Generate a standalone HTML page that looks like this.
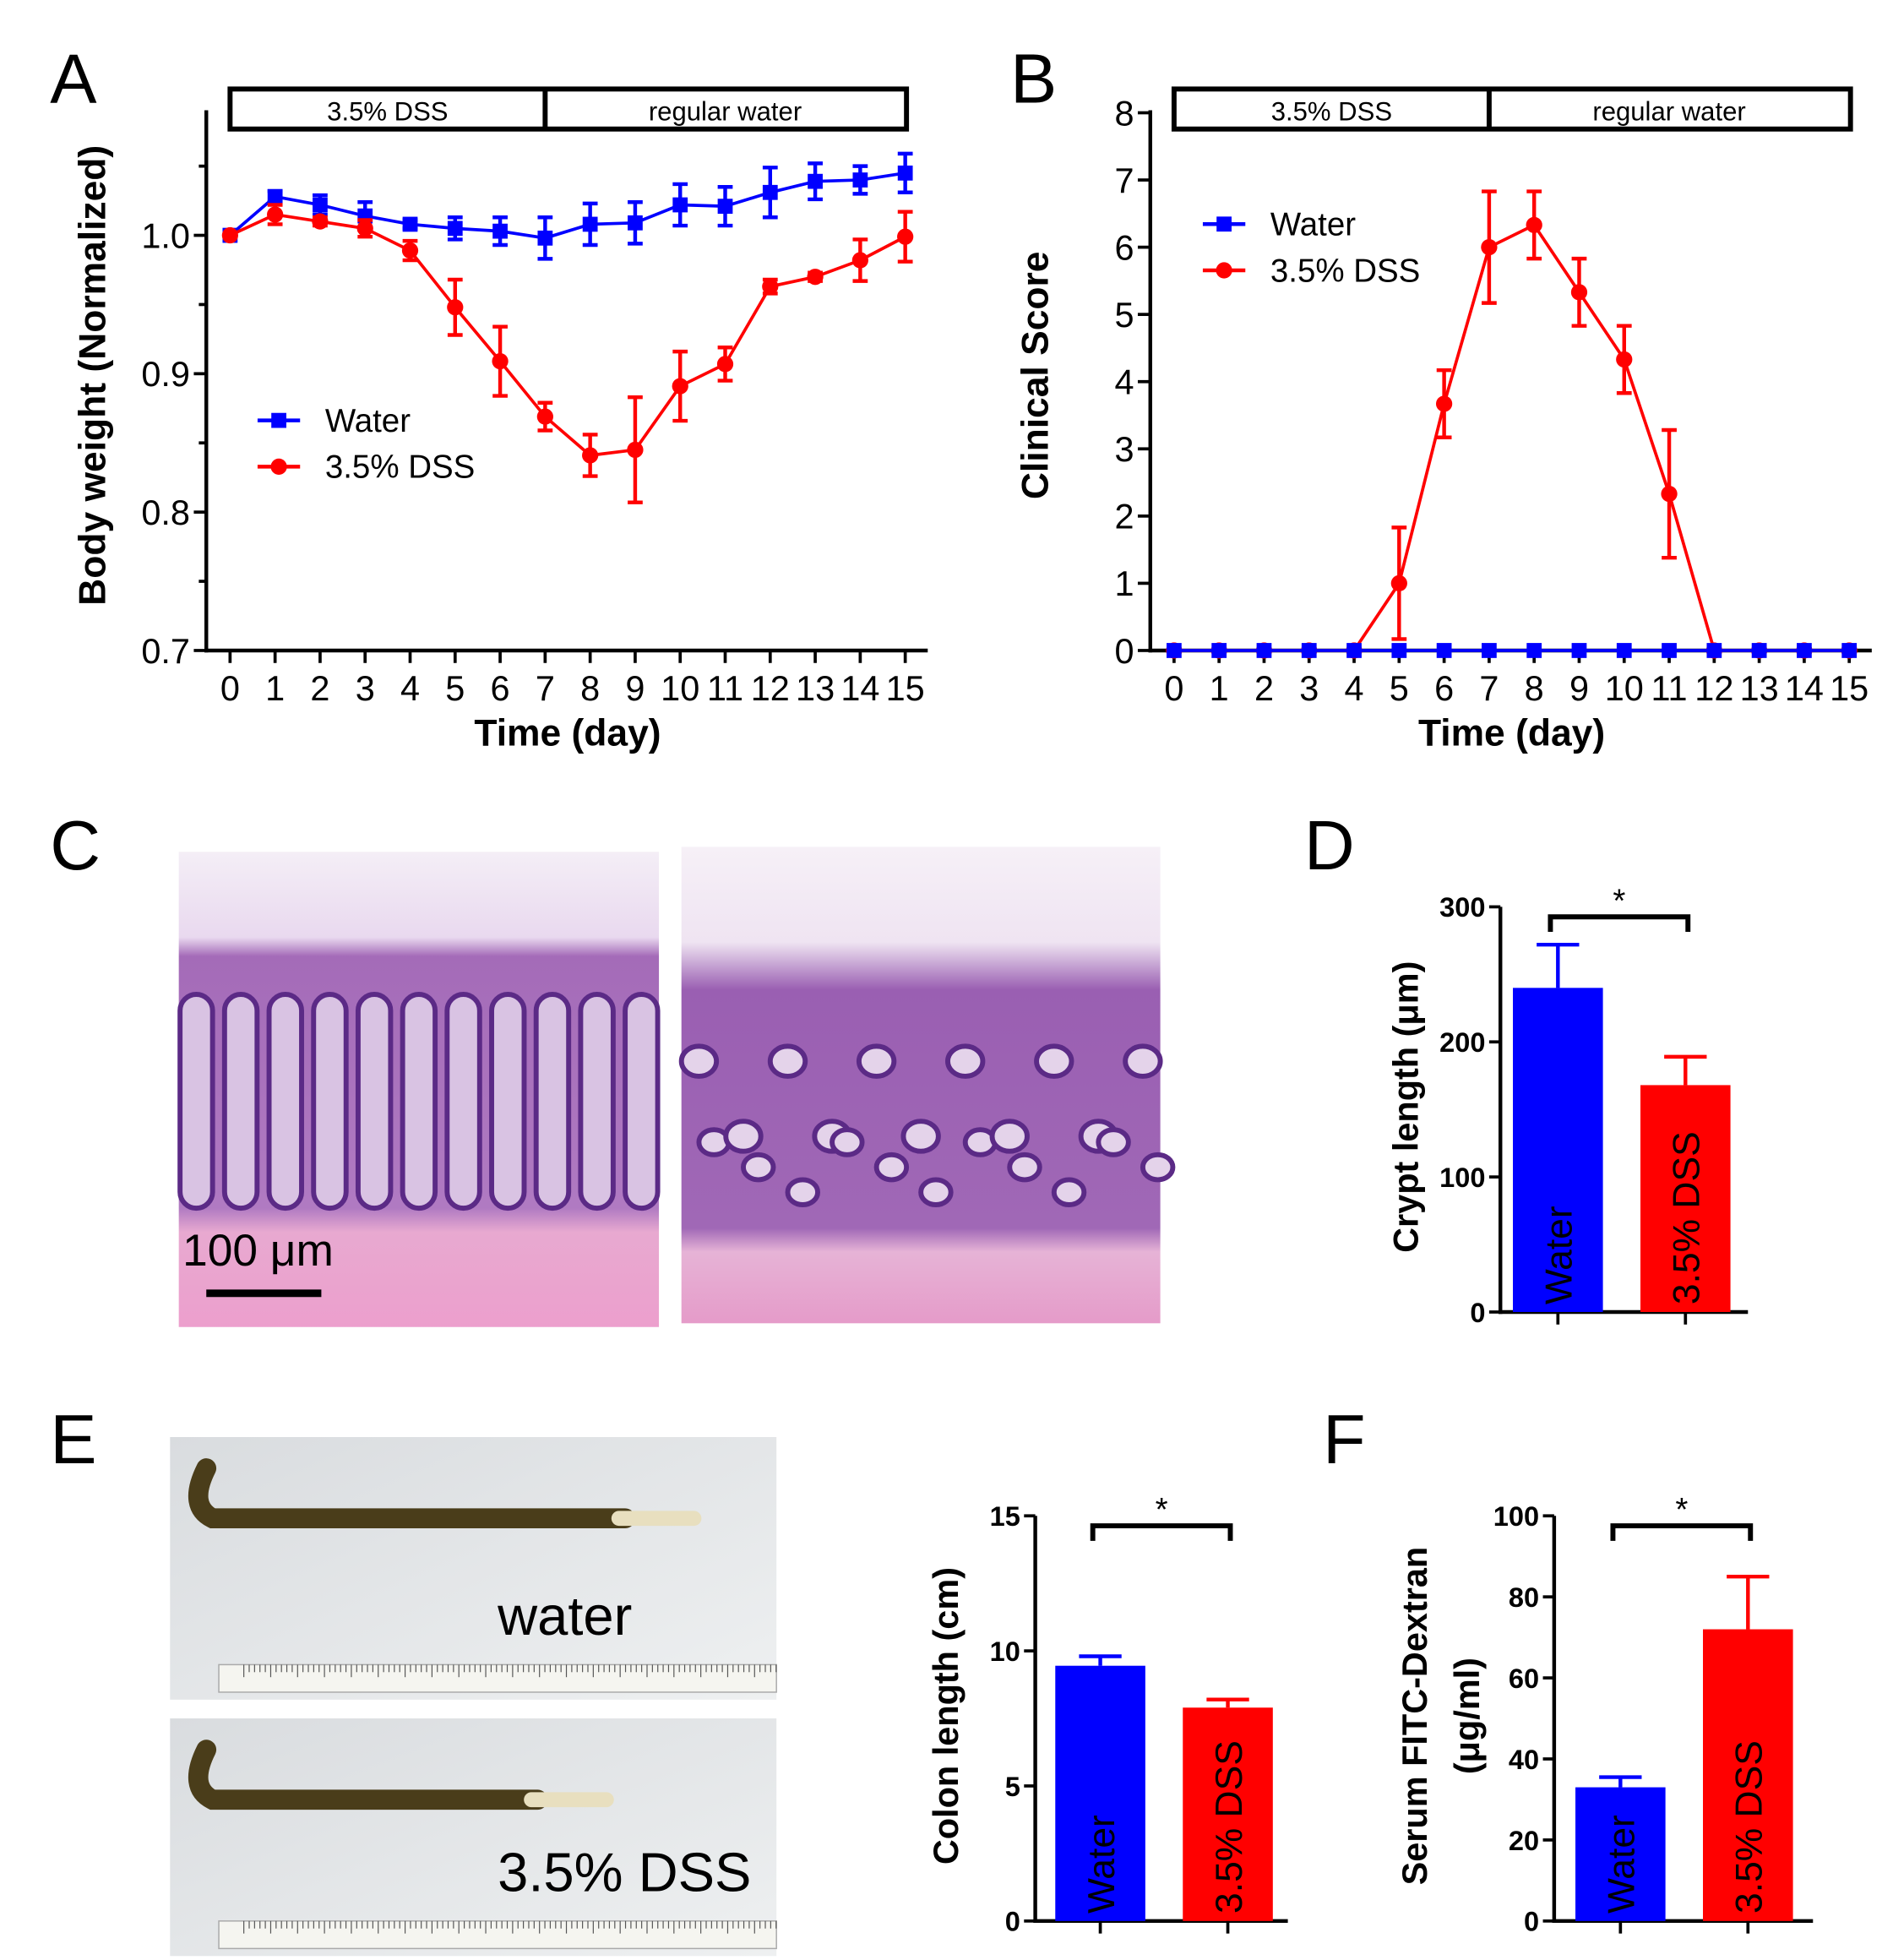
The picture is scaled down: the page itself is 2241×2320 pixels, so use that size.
<!DOCTYPE html>
<html><head><meta charset="utf-8"><style>
html,body{margin:0;padding:0;background:#fff;}
svg{display:block;font-family:"Liberation Sans",sans-serif;}
</style></head><body>
<svg id="fig" width="2241" height="2320" viewBox="0 0 1514 1567" xmlns="http://www.w3.org/2000/svg">
<defs>
<linearGradient id="tissueL" x1="0" y1="0" x2="0" y2="1">
<stop offset="0" stop-color="#f4eef6"/><stop offset="0.18" stop-color="#e9d9ef"/><stop offset="0.22" stop-color="#a46bb8"/><stop offset="0.75" stop-color="#b07ac2"/><stop offset="0.8" stop-color="#e8a9d0"/><stop offset="1" stop-color="#ec9fcd"/></linearGradient>
<linearGradient id="tissueR" x1="0" y1="0" x2="0" y2="1">
<stop offset="0" stop-color="#f6f0f7"/><stop offset="0.2" stop-color="#efe4f2"/><stop offset="0.3" stop-color="#9a5fb2"/><stop offset="0.8" stop-color="#a068b6"/><stop offset="0.85" stop-color="#e6b3d6"/><stop offset="1" stop-color="#e59bc9"/></linearGradient>
<linearGradient id="photo" x1="0" y1="0" x2="1" y2="1"><stop offset="0" stop-color="#d9dcdf"/><stop offset="1" stop-color="#eef0f1"/></linearGradient>
</defs>
<g id="root"></g>
</svg>
<script>
// ---- Panel A data ----
const daysA = [0,1,2,3,4,5,6,7,8,9,10,11,12,13,14,15];
const waterA = [1.0,1.028,1.022,1.014,1.008,1.005,1.003,0.998,1.008,1.009,1.022,1.021,1.031,1.039,1.040,1.045];
const waterAErr = [0,0.004,0.007,0.010,0.003,0.008,0.010,0.015,0.015,0.015,0.015,0.014,0.018,0.013,0.010,0.014];
const dssA = [1.0,1.015,1.010,1.005,0.989,0.948,0.909,0.869,0.841,0.845,0.891,0.907,0.963,0.970,0.982,0.999];
const dssAErr = [0,0.007,0.003,0.006,0.007,0.020,0.025,0.010,0.015,0.038,0.025,0.012,0.005,0.003,0.015,0.018];
const yTicksA = [0.7,0.8,0.9,1.0];
// ---- Panel B data ----
const daysB = [0,1,2,3,4,5,6,7,8,9,10,11,12,13,14,15];
const waterB = [0,0,0,0,0,0,0,0,0,0,0,0,0,0,0,0];
const dssB = [0,0,0,0,0,1,3.67,6,6.33,5.33,4.33,2.33,0,0,0,0];
const dssBErr = [0,0,0,0,0,0.83,0.5,0.83,0.5,0.5,0.5,0.95,0,0,0,0];
const yTicksB = [0,1,2,3,4,5,6,7,8];
// ---- Bar charts ----
const barGroups = ["Water","3.5% DSS"];
const cryptVals = [240,168];
const cryptErr = [32,21];
const cryptTicks = [0,100,200,300];
const colonVals = [9.45,7.9];
const colonErr = [0.35,0.3];
const colonTicks = [0,5,10,15];
const fitcVals = [33,72];
const fitcErr = [2.5,13];
const fitcTicks = [0,20,40,60,80,100];

const NS="http://www.w3.org/2000/svg";
const root=document.getElementById('root');
function mk(tag,attrs,parent,text){const e=document.createElementNS(NS,tag);for(const k in attrs)e.setAttribute(k,attrs[k]);if(text!==undefined)e.textContent=text;(parent||root).appendChild(e);return e;}
const BLUE="#0000ff",RED="#ff0000";

[["A",40,82],["B",808,82],["C",40,695],["D",1043,695],["E",40,1170],["F",1058,1170]].forEach(l=>{
 const t=mk('text',{x:l[1],y:l[2],'font-size':56},root,l[0]);
 
 
});

function lineChart(opt){
 const g=mk('g',{});
 
 
 const xs=d=>opt.x0+(d-opt.days[0])*(opt.x1-opt.x0)/(opt.days[opt.days.length-1]-opt.days[0]);
 const ys=v=>opt.yB+(v-opt.yMin)*(opt.yT-opt.yB)/(opt.yMax-opt.yMin);
 const hb=mk('g',{},g);
 
 
 const xm=xs(7);
 mk('rect',{x:xs(0),y:71,width:xs(15)+1-xs(0),height:32,fill:'#fff',stroke:'#000','stroke-width':4},hb);
 mk('line',{x1:xm,y1:71,x2:xm,y2:103,stroke:'#000','stroke-width':4},hb);
 const t1=mk('text',{x:(xs(0)+xm)/2,y:96,'font-size':21,'text-anchor':'middle'},hb,'3.5% DSS');
 
 
 const t2=mk('text',{x:(xm+xs(15))/2,y:96,'font-size':21,'text-anchor':'middle'},hb,'regular water');
 
 
 const ax=mk('g',{},g);
 
 
 mk('line',{x1:opt.ax,y1:opt.axTop,x2:opt.ax,y2:opt.yB+1.5,stroke:'#000','stroke-width':3},ax);
 mk('line',{x1:opt.ax-1.5,y1:opt.yB,x2:opt.axRight,y2:opt.yB,stroke:'#000','stroke-width':3},ax);
 opt.days.forEach(d=>{
  mk('line',{x1:xs(d),y1:opt.yB,x2:xs(d),y2:opt.yB+10,stroke:'#000','stroke-width':2.5},ax);
  const t=mk('text',{x:xs(d),y:opt.yB+40,'font-size':28,'text-anchor':'middle'},ax,String(d));
  
  
 });
 opt.yTicks.forEach(v=>{
  mk('line',{x1:opt.ax-10,y1:ys(v),x2:opt.ax,y2:ys(v),stroke:'#000','stroke-width':2.5},ax);
  const t=mk('text',{x:opt.ax-13,y:ys(v)+10,'font-size':28,'text-anchor':'end'},ax,opt.fmt(v));
  
  
 });
 (opt.minor||[]).forEach(v=>mk('line',{x1:opt.ax-6,y1:ys(v),x2:opt.ax,y2:ys(v),stroke:'#000','stroke-width':2.5},ax));
 const xt=mk('text',{x:(xs(0)+xs(15))/2,y:opt.yB+76,'font-size':30,'font-weight':'bold','text-anchor':'middle'},ax,'Time (day)');
 
 
 const yt=mk('text',{x:0,y:0,'font-size':30,'font-weight':'bold','text-anchor':'middle',transform:`translate(${opt.ylx},${opt.yly}) rotate(-90)`},ax,opt.ylabel);
 
 
 opt.series.forEach(s=>{
  const sg=mk('g',{},g);
  
  
  mk('polyline',{points:opt.days.map((d,i)=>xs(d)+','+ys(s.vals[i])).join(' '),fill:'none',stroke:s.color,'stroke-width':2.5},sg);
  opt.days.forEach((d,i)=>{
   const e=s.err[i];
   if(e>0){
    const x=xs(d),a=ys(s.vals[i]+e),b=ys(s.vals[i]-e);
    mk('line',{x1:x,y1:a,x2:x,y2:b,stroke:s.color,'stroke-width':3},sg);
    mk('line',{x1:x-6,y1:a,x2:x+6,y2:a,stroke:s.color,'stroke-width':3},sg);
    mk('line',{x1:x-6,y1:b,x2:x+6,y2:b,stroke:s.color,'stroke-width':3},sg);
   }
   let m;
   if(s.shape==='sq') m=mk('rect',{x:xs(d)-6,y:ys(s.vals[i])-6,width:12,height:12,fill:s.color},sg);
   else m=mk('circle',{cx:xs(d),cy:ys(s.vals[i]),r:6.5,fill:s.color},sg);
   
   
  });
 });
 opt.legend.forEach(l=>{
  const lg=mk('g',{},g);
  
  
  mk('line',{x1:l.x,y1:l.y,x2:l.x+34,y2:l.y,stroke:l.color,'stroke-width':3},lg);
  if(l.shape==='sq') mk('rect',{x:l.x+11,y:l.y-6,width:12,height:12,fill:l.color},lg);
  else mk('circle',{cx:l.x+17,cy:l.y,r:6.5,fill:l.color},lg);
  mk('text',{x:l.x+54,y:l.y+9,'font-size':26},lg,l.text);
 });
}

lineChart({name:'chart-a-body-weight',days:daysA,x0:184,x1:724,yB:520,yT:188,yMin:0.7,yMax:1.0,ax:165,axTop:88,axRight:742,
 yTicks:yTicksA,minor:[0.75,0.85,0.95,1.05],fmt:v=>v.toFixed(1),ylabel:'Body weight (Normalized)',ylx:84,yly:300,
 series:[{name:'series-water',vals:waterA,err:waterAErr,color:BLUE,shape:'sq'},{name:'series-dss',vals:dssA,err:dssAErr,color:RED,shape:'ci'}],
 legend:[{x:206,y:336,color:BLUE,shape:'sq',text:'Water'},{x:206,y:373,color:RED,shape:'ci',text:'3.5% DSS'}]});
lineChart({name:'chart-b-clinical-score',days:daysB,x0:939,x1:1479,yB:520,yT:90,yMin:0,yMax:8,ax:920,axTop:88,axRight:1497,
 yTicks:yTicksB,fmt:v=>String(v),ylabel:'Clinical Score',ylx:838,yly:300,
 series:[{name:'series-dss',vals:dssB,err:dssBErr,color:RED,shape:'ci'},{name:'series-water',vals:waterB,err:waterB,color:BLUE,shape:'sq'}],
 legend:[{x:962,y:179,color:BLUE,shape:'sq',text:'Water'},{x:962,y:216,color:RED,shape:'ci',text:'3.5% DSS'}]});

function histo(x,y,w,h,fill,name,crypts){
 const g=mk('g',{});
 
 
 mk('rect',{x:x,y:y,width:w,height:h,fill:`url(#${fill})`},g);
 for(let i=0;i<crypts;i++){
  const cx=x+14+i*(w-28)/(crypts-1);
  if(name==='histology-water'){
   mk('rect',{x:cx-13,y:y+h*0.3,width:26,height:h*0.45,rx:13,fill:'#d9c3e3',stroke:'#5b2a86','stroke-width':4},g);
  } else {
   mk('ellipse',{cx:cx,cy:y+h*0.45+(i%2)*60,rx:14,ry:12,fill:'#e4d3ea',stroke:'#5b2a86','stroke-width':4},g);
   mk('ellipse',{cx:cx+12,cy:y+h*0.62+(i%3)*20,rx:12,ry:10,fill:'#e4d3ea',stroke:'#5b2a86','stroke-width':4},g);
  }
 }
 return g;
}
histo(143,681,384,380,'tissueL','histology-water',11);
histo(545,677,383,381,'tissueR','histology-dss',11);
const sbt=mk('text',{x:146,y:1012,'font-size':36},root,'100 μm');


const sb=mk('line',{x1:165,y1:1034,x2:257,y2:1034,stroke:'#000','stroke-width':6});



function photo(y,h,len,label,name){
 const g=mk('g',{});
 
 
 mk('rect',{x:136,y:y,width:485,height:h,fill:'url(#photo)'},g);
 const cy=y+65;
 mk('path',{d:`M165 ${cy-40} q-15 30 5 40 l${len} 0`,fill:'none',stroke:'#4a3d1a','stroke-width':16,'stroke-linecap':'round'},g);
 mk('line',{x1:165+len,y1:cy,x2:165+len+60,y2:cy,stroke:'#e8dfbf','stroke-width':12,'stroke-linecap':'round'},g);
 mk('rect',{x:175,y:y+h-28,width:446,height:22,fill:'#f5f5f0',stroke:'#aaa'},g);
 for(let i=0;i<100;i++)mk('line',{x1:195+i*4.3,y1:y+h-28,x2:195+i*4.3,y2:y+h-(i%5?22:18),stroke:'#555','stroke-width':0.8},g);
 const t=mk('text',{x:398,y:y+h-52,'font-size':44},g,label);
 
 
}
photo(1149,210,330,'water','colon-photo-water');
photo(1374,190,260,'3.5% DSS','colon-photo-dss');

function barChart(o){
 const g=mk('g',{});
 
 
 const ys=v=>o.yB-(v/o.max)*(o.yB-o.yT);
 mk('line',{x1:o.ax,y1:o.yT,x2:o.ax,y2:o.yB+1.5,stroke:'#000','stroke-width':3},g);
 mk('line',{x1:o.ax-1.5,y1:o.yB,x2:o.axR,y2:o.yB,stroke:'#000','stroke-width':3},g);
 o.ticks.forEach(v=>{
  mk('line',{x1:o.ax-9,y1:ys(v),x2:o.ax,y2:ys(v),stroke:'#000','stroke-width':2.5},g);
  const t=mk('text',{x:o.ax-12,y:ys(v)+8,'font-size':22,'font-weight':'bold','text-anchor':'end'},g,String(v));
  
  
 });
 const colors=[BLUE,RED];
 const cs=[];
 barGroups.forEach((lab,i)=>{
  const bx=o.bx[i],c=bx+36;cs.push(c);
  const top=ys(o.vals[i]),et=ys(o.vals[i]+o.err[i]);
  mk('line',{x1:c,y1:top,x2:c,y2:et,stroke:colors[i],'stroke-width':3},g);
  mk('line',{x1:c-17,y1:et,x2:c+17,y2:et,stroke:colors[i],'stroke-width':3},g);
  const b=mk('rect',{x:bx,y:top,width:72,height:o.yB-top,fill:colors[i]},g);
  
  
  mk('line',{x1:c,y1:o.yB,x2:c,y2:o.yB+10,stroke:'#000','stroke-width':2.5},g);
  const t=mk('text',{x:0,y:0,'font-size':30,transform:`translate(${c+11},${o.yB-6}) rotate(-90)`},g,lab);
  
  
 });
 const by=o.yT+8;
 mk('path',{d:`M${cs[0]-6} ${by+12} V${by} H${cs[1]+2} V${by+12}`,fill:'none',stroke:'#000','stroke-width':4},g);
 const st=mk('text',{x:(cs[0]+cs[1])/2-2,y:by-4,'font-size':26,'text-anchor':'middle'},g,'*');
 
 
 o.ylabels.forEach(l=>{
  const t=mk('text',{x:0,y:0,'font-size':28,'font-weight':'bold','text-anchor':'middle',transform:`translate(${l[0]},${l[1]}) rotate(-90)`},g,l[2]);
  
  
 });
}
barChart({name:'chart-d-crypt-length',ax:1200,axR:1398,yB:1049,yT:725,max:300,ticks:cryptTicks,vals:cryptVals,err:cryptErr,bx:[1210,1312],
 ylabels:[[1134,885,'Crypt length (μm)']]});
barChart({name:'chart-e-colon-length',ax:828,axR:1030,yB:1536,yT:1212,max:15,ticks:colonTicks,vals:colonVals,err:colonErr,bx:[844,946],
 ylabels:[[766,1372,'Colon length (cm)']]});
barChart({name:'chart-f-fitc-dextran',ax:1243,axR:1450,yB:1536,yT:1212,max:100,ticks:fitcTicks,vals:fitcVals,err:fitcErr,bx:[1260,1362],
 ylabels:[[1141,1372,'Serum FITC-Dextran'],[1183,1372,'(μg/ml)']]});
</script>
</body></html>
